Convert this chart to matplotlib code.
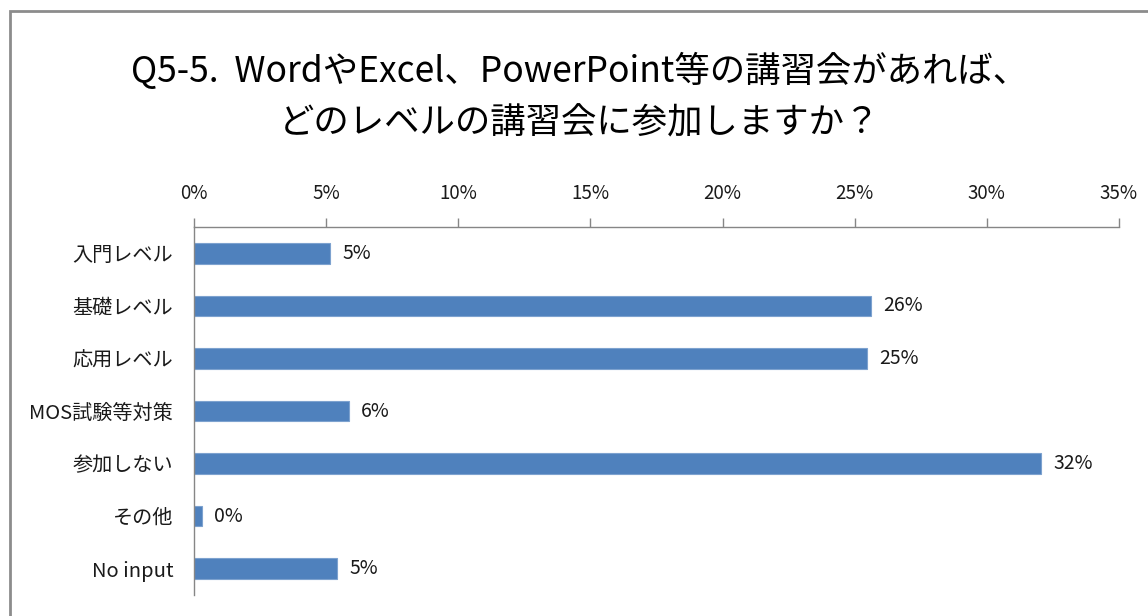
import matplotlib
matplotlib.use("Agg")
import matplotlib.pyplot as plt
from matplotlib.patches import Rectangle
from matplotlib.ticker import FuncFormatter

plt.rcParams['font.family'] = ['Noto Sans CJK JP', 'DejaVu Sans']

categories = ["入門レベル", "基礎レベル", "応用レベル", "MOS試験等対策", "参加しない", "その他", "No input"]
values = [5.15, 25.6, 25.45, 5.85, 32.05, 0.3, 5.42]
value_labels = ["5%", "26%", "25%", "6%", "32%", "0%", "5%"]
xticks = [0, 5, 10, 15, 20, 25, 30, 35]
title = "Q5-5.  WordやExcel、PowerPoint等の講習会があれば、\nどのレベルの講習会に参加しますか？"

W, H = 1148, 616
fig = plt.figure(figsize=(W / 100, H / 100), dpi=100)
fig.patch.set_facecolor("white")

# chart border (only left and top visible in reference)
fig.patches.append(Rectangle((10 / W, -0.1), 1.2, 1 - 11 / H + 0.1, transform=fig.transFigure,
                             fill=False, edgecolor="#8c8c8c", linewidth=2))

ax = fig.add_axes([194 / W, 1 - 595 / H, (1119 - 194) / W, (595 - 227) / H])
y = range(len(categories))
ax.barh(y, values, height=0.39, color="#4F81BD", edgecolor="#7da2cf", linewidth=0.8)
ax.set_ylim(len(categories) - 0.5, -0.5)
ax.set_xlim(0, 35)
ax.set_yticks(list(y))
ax.set_yticklabels(categories, fontsize=14.5, color="#1a1a1a")
ax.tick_params(axis="y", length=0, pad=15)
ax.xaxis.tick_top()
ax.set_xticks(xticks)
ax.xaxis.set_major_formatter(FuncFormatter(lambda v, p: f"{int(v)}%"))
ax.tick_params(axis="x", length=6.5, width=1, color="#868686", labelsize=13.5, pad=10, labelcolor="#1a1a1a")
for s in ["right", "bottom"]:
    ax.spines[s].set_visible(False)
for s in ["top", "left"]:
    ax.spines[s].set_color("#868686")
    ax.spines[s].set_linewidth(1)

for i, (v, lab) in enumerate(zip(values, value_labels)):
    ax.annotate(lab, (v, i), xytext=(9, 0), textcoords="offset points",
                va="center", ha="left", fontsize=14, color="#1a1a1a")

fig.text(0.505, 1 - 97 / H, title, ha="center", va="center", fontsize=25.5,
         linespacing=1.55, color="black")

fig.savefig("out.png", dpi=100)
